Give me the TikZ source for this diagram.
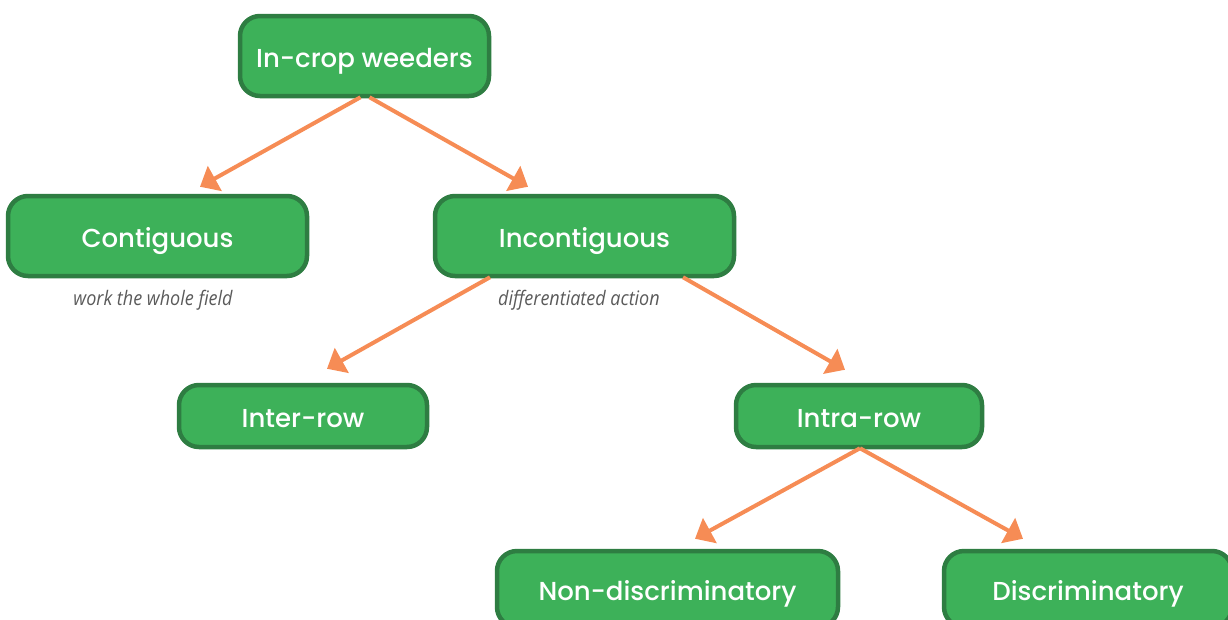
\documentclass[tikz,border=0pt]{standalone}
\usepackage{fontspec}
\setmainfont{Poppins}[UprightFont=* Medium]
\newfontfamily\labelfont{Open Sans}
\usetikzlibrary{arrows.meta,calc}
\definecolor{boxfill}{HTML}{3DB159}
\definecolor{boxline}{HTML}{2E7D42}
\definecolor{arrowc}{HTML}{F68C55}
\definecolor{labelc}{HTML}{5A5A5A}
\newcommand{\boxtxt}[1]{\raisebox{-11pt}[0pt][0pt]{#1}}
\tikzset{
  box/.style={draw=boxline, line width=4.5pt, fill=boxfill, rounded corners=20pt,
    text=white, font=\fontsize{26}{30}\selectfont, inner sep=0pt, align=center},
  conn/.style={draw=arrowc, line width=4pt, -{Triangle[length=17pt,width=28pt]}},
  note/.style={text=labelc, inner sep=0pt}
}
\begin{document}
\begin{tikzpicture}[x=1pt,y=1pt]
\useasboundingbox (0,0) rectangle (1228,-619);
\node[box, minimum width=249pt, minimum height=80pt] (a) at (364.5,-56) {\boxtxt{In-crop weeders}};
\node[box, minimum width=299pt, minimum height=80pt] (b) at (157.5,-236) {\boxtxt{Contiguous}};
\node[box, minimum width=299pt, minimum height=80pt] (c) at (584.5,-236) {\boxtxt{Incontiguous}};
\node[box, minimum width=248pt, minimum height=62pt] (d) at (303,-416) {\boxtxt{Inter-row}};
\node[box, minimum width=246pt, minimum height=62pt] (e) at (859,-416) {\boxtxt{Intra-row}};
\node[box, minimum width=341pt, minimum height=76pt] (f) at (667.5,-589) {\boxtxt{Non-discriminatory}};
\node[box, minimum width=288pt, minimum height=76pt] (g) at (1088,-589) {\boxtxt{Discriminatory}};
\node[note] (nb) at (153,-300) {\scalebox{0.9}[1]{\labelfont\itshape\fontsize{20}{24}\selectfont work the whole field}};
\node[note] (nc) at (579,-300) {\scalebox{0.9}[1]{\labelfont\itshape\fontsize{20}{24}\selectfont differentiated action}};
\path[conn] ($(a.south)+(-4,1)$) -- ($(b.north)+(42.5,7)$);
\path[conn] ($(a.south)+(5,1)$) -- ($(c.north)+(-56.5,7)$);
\path[conn] ($(c.south)+(-94.5,1)$) -- ($(d.north)+(24,14)$);
\path[conn] ($(c.south)+(98.5,1)$) -- ($(e.north)+(-14,13)$);
\path[conn] ($(e.south)+(1,1)$) -- ($(f.north)+(27.5,10)$);
\path[conn] ($(e.south)+(1,1)$) -- ($(g.north)+(-65,10)$);
\end{tikzpicture}
\end{document}
